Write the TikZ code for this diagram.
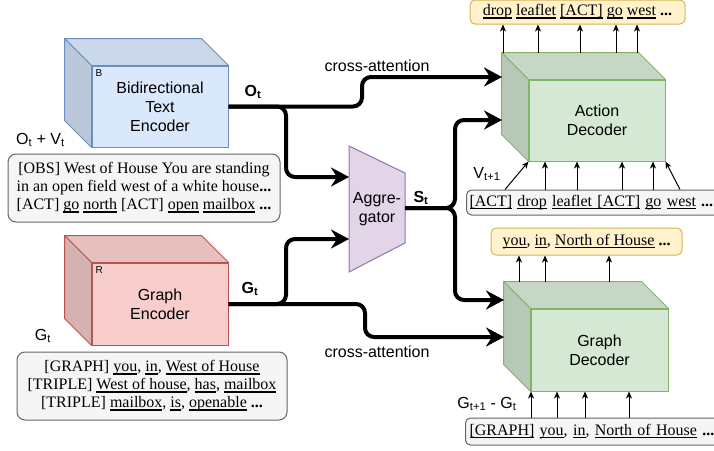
\documentclass[tikz,border=0pt]{standalone}
\usepackage{fontspec}
\setmainfont{Liberation Serif}
\newfontfamily\arialf{Liberation Sans}
\usetikzlibrary{arrows.meta,calc}
\definecolor{blueF}{HTML}{DAE8FC}\definecolor{blueS}{HTML}{6C8EBF}
\definecolor{redF}{HTML}{F8CECC}\definecolor{redS}{HTML}{B85450}
\definecolor{greenF}{HTML}{D5E8D4}\definecolor{greenS}{HTML}{82B366}
\definecolor{purpF}{HTML}{E1D5E7}\definecolor{purpS}{HTML}{9673A6}
\definecolor{yelF}{HTML}{FFF2CC}\definecolor{yelS}{HTML}{D6B656}
\definecolor{grayF}{HTML}{F5F5F5}\definecolor{grayS}{HTML}{666666}
\newcommand\uln[1]{\setbox0\hbox{#1}\rlap{\rule[-2.6pt]{\wd0}{1.1pt}}\box0\relax}
\newcommand\cubesides[3]{%
  \draw[draw=#3, fill=#2!93!black, line width=1pt, line join=round] (#1.north west) -- ++(-27,-27) -- ($(#1.north east)+(-27,-27)$) -- (#1.north east) -- cycle;
  \draw[draw=#3, fill=#2!86!black, line width=1pt, line join=round] (#1.north west) -- ++(-27,-27) -- ($(#1.south west)+(-27,-27)$) -- (#1.south west) -- cycle;}
\begin{document}
\begin{tikzpicture}[x=1pt,y=-1pt,
  sans/.style={font=\arialf\fontsize{16}{19}\selectfont},
  sansb/.style={font=\arialf\bfseries\fontsize{16}{19}\selectfont},
  cubefront/.style={draw, line width=1pt, minimum width=136pt, minimum height=81pt, inner sep=0pt, align=center, sans},
  small/.style={font=\arialf\fontsize{10}{12}\selectfont, inner sep=0pt, anchor=north west},
  graybox/.style={draw=grayS, fill=grayF, line width=1pt, rounded corners=8pt, inner sep=0pt, align=center, font=\fontsize{16}{18}\selectfont},
  yelbox/.style={draw=yelS, fill=yelF, line width=1pt, rounded corners=5pt, inner sep=0pt, align=center, font=\fontsize{16}{18}\selectfont},
  lbl/.style={sans, inner sep=0pt},
  conn/.style={line width=4pt, rounded corners=9pt, -{Stealth[length=18pt,width=19pt,inset=6pt]}},
  tarr/.style={line width=1pt, -{Stealth[length=7pt,width=6pt,inset=2pt]}}]
\useasboundingbox (0,0) rectangle (714,450);

% Encoders
\node[cubefront, draw=blueS, fill=blueF] (enc) at (160,106.5) {Bidirectional\\Text\\Encoder};
\cubesides{enc}{blueF}{blueS}
\node[small] (encB) at ($(enc.north west)+(4,4)$) {B};

\node[cubefront, draw=redS, fill=redF, minimum height=82pt] (genc) at (160,304) {Graph\\Encoder};
\cubesides{genc}{redF}{redS}
\node[small] (gencR) at ($(genc.north west)+(4,4)$) {R};

% Input text boxes
\node[graybox, minimum width=272pt, minimum height=68pt] (obs) at (144,188)
  {[OBS] West of House You are standing\\{}%
   in an open field west of a white house\textbf{...}\\{}%
   [ACT] \uln{go} \uln{north} [ACT] \uln{open} \uln{mailbox} \textbf{...}};
\node[graybox, minimum width=270pt, minimum height=68pt] (gbox) at (152,386)
  {[GRAPH] \uln{you}, \uln{in}, \uln{West of House}\\{}%
   [TRIPLE] \uln{West of house}, \uln{has}, \uln{mailbox}\\{}%
   [TRIPLE] \uln{mailbox}, \uln{is}, \uln{openable} \textbf{...}};

\node[lbl] (otv) at (40.5,140) {O\textsubscript{t} + V\textsubscript{t}};
\node[lbl] (gtl) at (43,336) {G\textsubscript{t}};

% Aggregator
\draw[draw=purpS, fill=purpF, line width=1pt] (349,146) -- (405,173) -- (405,243) -- (349,272) -- cycle;
\node[lbl, align=center] (agg) at (377,209) {Aggre-\\gator};
\coordinate (aggin1) at (349,177);
\coordinate (aggin2) at (349,239);
\coordinate (aggout) at (405,208);

% Decoders
\node[cubefront, draw=greenS, fill=greenF] (adec) at (597,120.5) {Action\\Decoder};
\cubesides{adec}{greenF}{greenS}
\node[cubefront, draw=greenS, fill=greenF, minimum width=137pt, minimum height=82pt] (gdec) at (599.5,350) {Graph\\Decoder};
\cubesides{gdec}{greenF}{greenS}

\coordinate (adecin1) at (502,77);
\coordinate (adecin2) at (502,120);
\coordinate (gdecin1) at (504,300);
\coordinate (gdecin2) at (504,337);

% Output / input boxes of decoders
\node[yelbox, minimum width=215pt, minimum height=24pt] (aout) at (577.5,12)
  {\uln{drop} \uln{leaflet} \uln{[ACT]} \uln{go} \uln{west} \textbf{...}};
\node[graybox, rounded corners=5pt, anchor=west, minimum height=25pt, inner xsep=3pt, text width=252pt, align=left] (ain) at (466,202.5)
  {\uln{[ACT]} \uln{drop} \uln{leaflet [ACT]} \uln{go} \uln{west}\hspace{5pt}\textbf{...}};
\node[yelbox, minimum width=191pt, minimum height=27pt] (gout) at (586.5,241.5)
  {\uln{you}, \uln{in}, \uln{North of House} \textbf{...}};
\node[graybox, rounded corners=5pt, anchor=west, minimum height=27pt, inner xsep=4pt, text width=252pt, align=left] (gin) at (465,431.5)
  {\uln{[GRAPH]} \uln{you}, \uln{in}, \uln{North of House} \textbf{...}};

\node[lbl] (vt1) at (487,174) {V\textsubscript{t+1}};
\node[lbl] (gtt) at (487,404) {G\textsubscript{t+1} - G\textsubscript{t}};

% Thick connectors
\draw[conn] (enc.east) -- (362,106.5) -- (362,77) -- (adecin1);
\draw[conn] (enc.east) -- (286,106.5) -- (286,177) -- (aggin1);
\draw[conn] (genc.east) -- (286,304) -- (286,239) -- (aggin2);
\draw[conn] (genc.east) -- (365,304) -- (365,337) -- (gdecin2);
\draw[conn] (aggout) -- (455,208) -- (455,120) -- (adecin2);
\draw[conn] (aggout) -- (455,208) -- (455,300) -- (gdecin1);

\node[sansb, inner sep=0pt] (otl) at (253,92) {O\textsubscript{t}};
\node[sansb, inner sep=0pt] (gtb) at (250,289) {G\textsubscript{t}};
\node[sansb, inner sep=0pt] (stl) at (421,198) {S\textsubscript{t}};
\node[lbl] (ca1) at (377,66) {cross-attention};
\node[lbl] (ca2) at (377,352) {cross-attention};

% Thin arrows
\foreach \x in {503,538,580,616,637} \draw[tarr] (\x,53) -- (aout.south -| \x,0);
\draw[tarr] (ain.north -| 505,0) -- (adec.south west);
\foreach \x in {545,577,622,653} \draw[tarr] (ain.north -| \x,0) -- (adec.south -| \x,0);
\draw[tarr] (ain.north -| 680,0) -- (adec.south east);
\foreach \x in {519,545,609} \draw[tarr] (\x,282) -- (gout.south -| \x,0);
\foreach \x in {531,557,585,629} \draw[tarr] (gin.north -| \x,0) -- (gdec.south -| \x,0);
\end{tikzpicture}
\end{document}
